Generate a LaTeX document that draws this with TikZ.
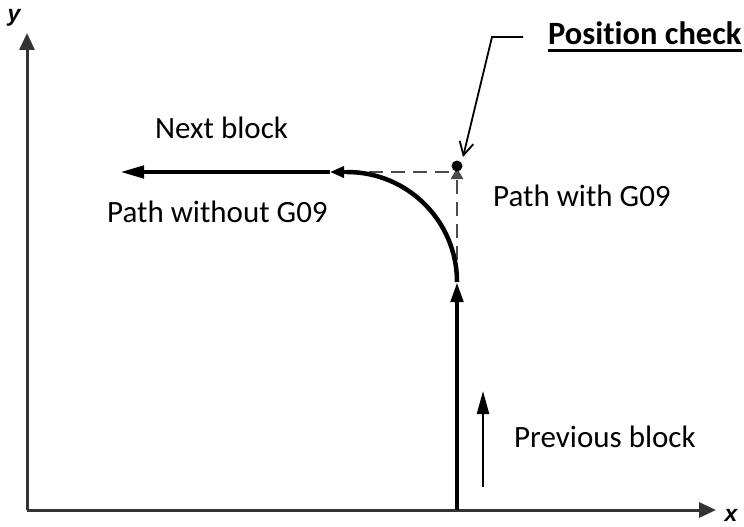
\documentclass[tikz,border=0pt]{standalone}
\usepackage{fontspec}
\setmainfont{Carlito}[Ligatures=NoCommon]
\newfontfamily\axfont{Liberation Sans}
\usetikzlibrary{arrows.meta}
\definecolor{dashgray}{HTML}{4A4A4A}
\definecolor{axisgray}{HTML}{333333}
\tikzset{
  axisline/.style={line width=3pt, draw=axisgray, -{Triangle[length=17pt,width=15pt]}},
  mainpath/.style={line width=4.5pt, draw=black},
  guide/.style={line width=2.8pt, draw=dashgray, dash pattern=on 14pt off 8pt},
  lbl/.style={inner sep=0pt, anchor=base west, font=\fontsize{31}{37}\selectfont},
  axlbl/.style={inner sep=0pt, font=\axfont\bfseries\itshape\fontsize{23}{26}\selectfont},
}
\begin{document}
\begin{tikzpicture}[x=1pt,y=-1pt]
\useasboundingbox (0,0) rectangle (744,527);
% coordinates
\coordinate (O) at (27,510);
\coordinate (Ytop) at (27,33);
\coordinate (Xend) at (716,510);
\coordinate (P0) at (457,510);
\coordinate (P1) at (457,282);
\coordinate (P2) at (347,172);
\coordinate (P3) at (120,172);
\coordinate (Pmid) at (330,172);
\coordinate (C) at (457,172);
\coordinate (Cdot) at (457,166);
\coordinate (Ctip) at (457,168);
\coordinate (L0) at (523,37);
\coordinate (L1) at (492,37);
\coordinate (L2) at (463,157);
\coordinate (A0) at (483,487);
\coordinate (A1) at (483,391);
% axes
\draw[axisline] (O) -- (Ytop);
\draw[axisline] (O) -- (Xend);
\node[axlbl] (ylab) at (14,18) {y};
\node[axlbl] (xlab) at (731,515) {x};
% guides (dashed)
\draw[guide] (P2) -- (C);
\draw[guide, -{Triangle[length=11pt,width=12pt]}] (P1) -- (Ctip);
\fill[black] (Cdot) circle (5.5pt);
% main path
\draw[mainpath, -{Triangle[length=20pt,width=12pt]}] (P0) -- (P1);
\draw[mainpath] (P1) arc[start angle=0, end angle=90, radius=110pt];
\draw[mainpath, -{Triangle[length=14pt,width=11pt]}] (P2) -- (Pmid);
\draw[mainpath, -{Triangle[length=24pt,width=12pt]}] (Pmid) -- (P3);
% previous block arrow
\draw[line width=2.2pt, -{Triangle[length=23pt,width=12pt]}] (A0) -- (A1);
% callout
\draw[line width=1.8pt, -{Straight Barb[length=13pt,width=14pt]}] (L0) -- (L1) -- (L2);
% texts
\node[lbl] (next) at (155,138) {Next block};
\node[lbl] (without) at (107,222) {Path without G09};
\node[lbl] (with) at (493,206) {Path with G09};
\node[lbl] (prev) at (514,447) {Previous block};
\node[lbl, font=\bfseries\fontsize{32.5}{38}\selectfont] (poscheck) at (548,45) {Position check};
\draw[line width=3pt] ([yshift=-6pt]poscheck.base west) -- ([yshift=-6pt]poscheck.base east);
\end{tikzpicture}
\end{document}
